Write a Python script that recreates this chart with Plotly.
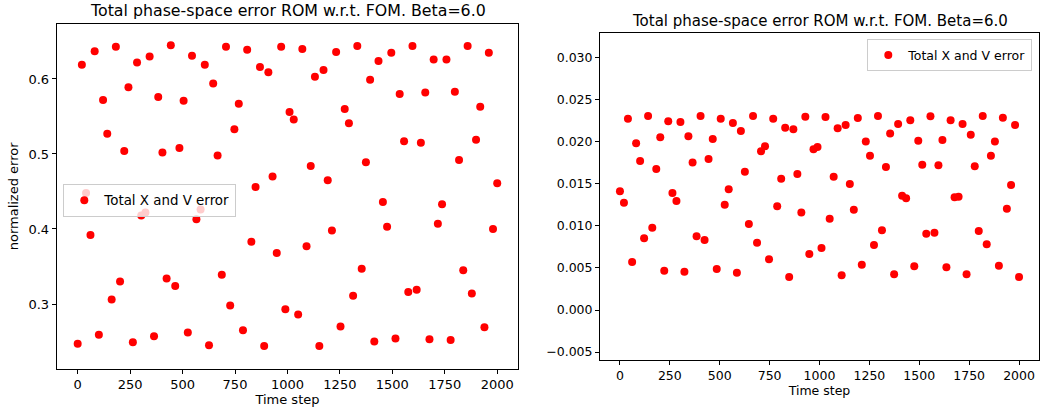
import plotly.graph_objects as go

# Sampled time steps (100 snapshots over 2000 steps)
time_steps = [
    0, 20, 40, 61, 81, 101, 121, 141, 162, 182,
    202, 222, 242, 263, 283, 303, 323, 343, 364, 384,
    404, 424, 444, 465, 485, 505, 525, 545, 566, 586,
    606, 626, 646, 667, 687, 707, 727, 747, 768, 788,
    808, 828, 848, 869, 889, 909, 929, 949, 970, 990,
    1010, 1030, 1051, 1071, 1091, 1111, 1131, 1152, 1172, 1192,
    1212, 1232, 1253, 1273, 1293, 1313, 1333, 1354, 1374, 1394,
    1414, 1434, 1455, 1475, 1495, 1515, 1535, 1556, 1576, 1596,
    1616, 1636, 1657, 1677, 1697, 1717, 1737, 1758, 1778, 1798,
    1818, 1838, 1859, 1879, 1899, 1919, 1939, 1960, 1980, 2000,
]

# Normalized total X and V error, first run
error_a = [
    0.247, 0.619, 0.448, 0.392, 0.637, 0.259, 0.572, 0.527, 0.306, 0.643,
    0.330, 0.504, 0.589, 0.249, 0.622, 0.418, 0.422, 0.630, 0.257, 0.576,
    0.502, 0.334, 0.645, 0.324, 0.508, 0.571, 0.262, 0.631, 0.413, 0.426,
    0.619, 0.245, 0.594, 0.498, 0.339, 0.643, 0.298, 0.533, 0.567, 0.265,
    0.639, 0.383, 0.456, 0.616, 0.244, 0.609, 0.470, 0.368, 0.643, 0.293,
    0.556, 0.546, 0.286, 0.640, 0.377, 0.484, 0.603, 0.244, 0.612, 0.465,
    0.398, 0.636, 0.270, 0.560, 0.541, 0.311, 0.644, 0.347, 0.489, 0.599,
    0.250, 0.624, 0.436, 0.403, 0.635, 0.254, 0.580, 0.517, 0.316, 0.644,
    0.319, 0.515, 0.582, 0.253, 0.626, 0.407, 0.433, 0.626, 0.252, 0.583,
    0.492, 0.345, 0.644, 0.314, 0.519, 0.563, 0.269, 0.635, 0.400, 0.461,
]

# Normalized total X and V error, second run
error_b = [
    0.01413, 0.01277, 0.02277, 0.00571, 0.01985, 0.01774, 0.00854, 0.02310, 0.00980, 0.01679,
    0.02056, 0.00468, 0.02246, 0.01393, 0.01298, 0.02238, 0.00456, 0.02068, 0.01754, 0.00877,
    0.02310, 0.00833, 0.01798, 0.02036, 0.00488, 0.02277, 0.01254, 0.01437, 0.02226, 0.00444,
    0.02131, 0.01646, 0.01024, 0.02310, 0.00801, 0.01889, 0.01949, 0.00604, 0.02277, 0.01235,
    0.01563, 0.02170, 0.00393, 0.02151, 0.01619, 0.01161, 0.02301, 0.00667, 0.01913, 0.01940,
    0.00738, 0.02298, 0.01087, 0.01587, 0.02163, 0.00413, 0.02202, 0.01500, 0.01194, 0.02286,
    0.00539, 0.02004, 0.01837, 0.00774, 0.02310, 0.00949, 0.01702, 0.02099, 0.00425, 0.02214,
    0.01361, 0.01330, 0.02258, 0.00520, 0.02015, 0.01730, 0.00908, 0.02306, 0.00920, 0.01723,
    0.02024, 0.00508, 0.02258, 0.01342, 0.01349, 0.02214, 0.00425, 0.02087, 0.01711, 0.00940,
    0.02310, 0.00782, 0.01837, 0.02004, 0.00527, 0.02289, 0.01206, 0.01488, 0.02202, 0.00393,
]

x_ticks = [0, 250, 500, 750, 1000, 1250, 1500, 1750, 2000]
y_ticks_a = [0.3, 0.4, 0.5, 0.6]
y_ticks_b = [-0.005, 0.0, 0.005, 0.010, 0.015, 0.020, 0.025, 0.030]

title_text = "Total phase-space error ROM w.r.t. FOM. Beta=6.0"
series_name = "Total X and V error"

W, H = 1041, 412
FONT = "DejaVu Sans"
TXT = "#000000"

fig = go.Figure()

fig.add_trace(go.Scatter(
    x=time_steps, y=error_a, mode="markers", name=series_name,
    marker=dict(color="#ff0000", size=8, line=dict(width=0)),
    xaxis="x", yaxis="y", legend="legend",
))
fig.add_trace(go.Scatter(
    x=time_steps, y=error_b, mode="markers", name=series_name,
    marker=dict(color="#ff0000", size=8, line=dict(width=0)),
    xaxis="x2", yaxis="y2", legend="legend2",
))


def axis_style(size):
    return dict(
        showline=True, linecolor="#000000", linewidth=1, mirror=True,
        showgrid=False, zeroline=False, ticks="outside", ticklen=4,
        tickwidth=1, tickcolor="#000000",
        tickfont=dict(family=FONT, size=size, color=TXT),
    )


def px_x(p):
    return p / W


def px_y(p):
    return (H - p) / H


fig.update_layout(
    width=W, height=H,
    margin=dict(l=0, r=0, t=0, b=0),
    paper_bgcolor="white", plot_bgcolor="white",
    font=dict(family=FONT, color=TXT),
    xaxis=dict(
        axis_style(13), domain=[px_x(56.7), px_x(518.2)], range=[-100, 2100],
        tickvals=x_ticks, ticktext=[str(v) for v in x_ticks],
        title=dict(text="Time step", font=dict(family=FONT, size=13, color=TXT), standoff=3),
        anchor="y",
    ),
    yaxis=dict(
        axis_style(13), domain=[px_y(368.8), px_y(24)], range=[0.2136, 0.6733],
        tickvals=y_ticks_a, ticktext=[f"{v:.1f}" for v in y_ticks_a],
        title=dict(text="normalized error", font=dict(family=FONT, size=13, color=TXT), standoff=6),
        anchor="x",
    ),
    xaxis2=dict(
        axis_style(12.5), domain=[px_x(600), px_x(1039)], range=[-100, 2100],
        tickvals=x_ticks, ticktext=[str(v) for v in x_ticks],
        title=dict(text="Time step", font=dict(family=FONT, size=12.5, color=TXT), standoff=3),
        anchor="y2",
    ),
    yaxis2=dict(
        axis_style(12.5), domain=[px_y(360), px_y(32.7)], range=[-0.00595, 0.0330],
        tickvals=y_ticks_b,
        ticktext=[f"{v:.3f}".replace("-", "\u2212") for v in y_ticks_b],
        anchor="x2",
    ),
    legend=dict(
        x=px_x(63.3), y=px_y(184), xanchor="left", yanchor="top",
        bgcolor="rgba(255,255,255,0.8)", bordercolor="#cccccc", borderwidth=1,
        font=dict(family=FONT, size=13.4, color=TXT),
        tracegroupgap=0,
    ),
    legend2=dict(
        x=px_x(1032.3), y=px_y(39.3), xanchor="right", yanchor="top",
        bgcolor="rgba(255,255,255,0.8)", bordercolor="#cccccc", borderwidth=1,
        font=dict(family=FONT, size=12.5, color=TXT),
        tracegroupgap=0,
    ),
    showlegend=True,
)

fig.add_annotation(
    text=title_text, x=px_x(287.5), y=px_y(11), xref="paper", yref="paper",
    xanchor="center", yanchor="middle", showarrow=False,
    font=dict(family=FONT, size=15.8, color=TXT),
)
fig.add_annotation(
    text=title_text, x=px_x(819.5), y=px_y(20.7), xref="paper", yref="paper",
    xanchor="center", yanchor="middle", showarrow=False,
    font=dict(family=FONT, size=15, color=TXT),
)

fig.write_html("out.html")
